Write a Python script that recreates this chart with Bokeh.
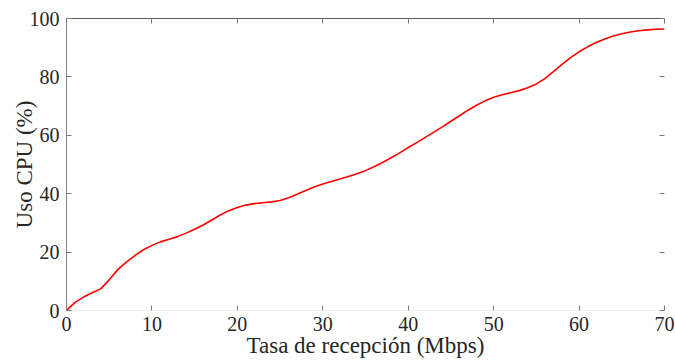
from bokeh.plotting import figure
from bokeh.models import LinearAxis, FixedTicker, Range1d
from bokeh.embed import file_html
from bokeh.resources import INLINE

# Data
rate_mbps = list(range(0, 71))
cpu_pct = [0, 2.8, 4.6, 6.1, 7.4, 10.5, 14.0, 16.6, 18.8, 20.8,
           22.3, 23.5, 24.4, 25.3, 26.5, 27.8, 29.3, 31.0, 32.7, 34.2,
           35.3, 36.1, 36.6, 36.9, 37.2, 37.7, 38.6, 39.8, 41.1, 42.3,
           43.3, 44.2, 45.0, 45.9, 46.8, 47.9, 49.2, 50.7, 52.3, 54.0,
           55.8, 57.5, 59.3, 61.1, 62.9, 64.8, 66.7, 68.6, 70.3, 71.8,
           73.0, 73.9, 74.6, 75.3, 76.3, 77.6, 79.4, 81.8, 84.3, 86.6,
           88.6, 90.3, 91.8, 93.0, 94.0, 94.8, 95.4, 95.8, 96.1, 96.3,
           96.4]
x_ticks = [0, 10, 20, 30, 40, 50, 60, 70]
y_ticks = [0, 20, 40, 60, 80, 100]
x_label = "Tasa de recepción (Mbps)"
y_label = "Uso CPU (%)"

FONT = "Liberation Serif"
TXT = "#262626"

p = figure(width=675, height=362, output_backend="svg", toolbar_location=None,
           x_range=Range1d(0, 70), y_range=Range1d(0, 100),
           x_axis_location=None, y_axis_location=None,
           min_border_left=66, min_border_right=11, min_border_top=18,
           min_border_bottom=52)
p.outline_line_color = None
p.grid.visible = False
p.background_fill_color = "white"
p.border_fill_color = "white"

def style(ax, ticks, line_color, show_labels):
    ax.ticker = FixedTicker(ticks=ticks)
    ax.major_tick_in = 5
    ax.major_tick_out = 0
    ax.minor_tick_line_color = None
    ax.major_tick_line_color = "#7a7a7a"
    ax.axis_line_color = line_color
    ax.axis_line_width = 1
    ax.major_label_text_font = FONT
    if show_labels:
        ax.major_label_text_font_size = "20px"
        ax.major_label_text_color = TXT
    else:
        ax.major_label_text_font_size = "1px"
        ax.major_label_text_color = None
        ax.major_label_standoff = 0
    ax.axis_label_text_font = FONT
    ax.axis_label_text_font_size = "23px"
    ax.axis_label_text_font_style = "normal"
    ax.axis_label_text_color = TXT

xb = LinearAxis(axis_label=x_label)
style(xb, x_ticks, "#eeeeee", True)
xb.major_label_standoff = 6
xb.axis_label_standoff = -1
p.add_layout(xb, "below")

xt = LinearAxis()
style(xt, x_ticks, "#5a5a5a", False)
p.add_layout(xt, "above")

yl = LinearAxis(axis_label=y_label)
style(yl, y_ticks, "#808080", True)
yl.major_label_standoff = 7
yl.axis_label_standoff = -10
p.add_layout(yl, "left")

yr = LinearAxis()
style(yr, y_ticks, None, False)
p.add_layout(yr, "right")

p.line(rate_mbps, cpu_pct, line_color="#ff0000", line_width=1.6)

open("out.html", "w").write(file_html(p, INLINE))
